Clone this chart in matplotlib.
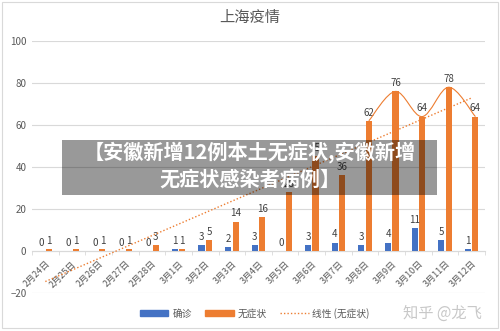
import numpy as np
import matplotlib
matplotlib.use("Agg")
import matplotlib.pyplot as plt
from matplotlib.path import Path
from matplotlib.patches import PathPatch, Rectangle
from matplotlib.lines import Line2D

plt.rcParams['font.family'] = ['Noto Sans CJK SC', 'DejaVu Sans']

dates = ['2月24日', '2月25日', '2月26日', '2月27日', '2月28日', '3月1日', '3月2日',
         '3月3日', '3月4日', '3月5日', '3月6日', '3月7日', '3月8日', '3月9日',
         '3月10日', '3月11日', '3月12日']
confirmed = [0, 0, 0, 0, 0, 1, 3, 2, 3, 0, 3, 4, 3, 4, 11, 5, 1]
asymptomatic = [1, 1, 1, 1, 3, 1, 5, 14, 16, 28, 45, 36, 62, 76, 64, 78, 64]

BLUE = '#4472C4'
ORANGE = '#ED7D31'
GRAY = '#595959'

fig = plt.figure(figsize=(5, 3.31), dpi=100)
ax = fig.add_axes([0.064, 0.115, 0.906, 0.761])

x = np.arange(len(dates))
w = 0.23
off = 0.14
b1 = ax.bar(x - off, confirmed, w, color=BLUE, zorder=3)
b2 = ax.bar(x + off, asymptomatic, w, color=ORANGE, zorder=3)

for rect, v in zip(b1, confirmed):
    ax.text(rect.get_x() + rect.get_width() / 2, v + 1.5, str(v), ha='center', va='bottom',
            fontsize=7, color='#404040', zorder=4)
for rect, v in zip(b2, asymptomatic):
    ax.text(rect.get_x() + rect.get_width() / 2, v + 1.5, str(v), ha='center', va='bottom',
            fontsize=7, color='#404040', zorder=4)

# linear trend of asymptomatic
k, c = np.polyfit(x + 1, asymptomatic, 1)
ax.plot(x, k * (x + 1) + c, ls=(0, (1, 1.5)), color=ORANGE, lw=1, zorder=4)

# smooth curve over the last bar tops (hand drawn in original)
pts = np.array([[xi + off, asymptomatic[xi]] for xi in range(12, 17)], dtype=float)
ext = np.vstack([pts[0], pts, pts[-1]])
verts = [tuple(pts[0])]
codes = [Path.MOVETO]
for i in range(1, len(ext) - 2):
    p0, p1, p2, p3 = ext[i - 1], ext[i], ext[i + 1], ext[i + 2]
    verts += [tuple(p1 + (p2 - p0) / 6), tuple(p2 - (p3 - p1) / 6), tuple(p2)]
    codes += [Path.CURVE4] * 3
ax.add_patch(PathPatch(Path(verts, codes), fill=False, ec=ORANGE, lw=0.8, zorder=4))

ax.set_ylim(-20, 100)
ax.set_xlim(-0.5, len(dates) - 0.5)
ax.set_yticks(range(-20, 101, 20))
ax.yaxis.grid(True, color='#D9D9D9', lw=0.8, zorder=0)
ax.set_axisbelow(True)
for s in ['top', 'right', 'left']:
    ax.spines[s].set_visible(False)
ax.spines['bottom'].set_position(('data', 0))
ax.spines['bottom'].set_color('#D9D9D9')
ax.spines['bottom'].set_zorder(2)
ax.tick_params(axis='y', length=0, labelsize=7, labelcolor=GRAY, pad=4)
ax.set_xticks(x)
ax.set_xticklabels(dates, rotation=45, ha='right', rotation_mode='anchor',
                   fontsize=6.5, color=GRAY)
ax.set_xticks(np.arange(-0.5, len(dates), 1), minor=True)
ax.tick_params(axis='x', which='major', length=0, pad=6)
ax.tick_params(axis='x', which='minor', length=3, color='#D9D9D9')

fig.text(0.5, 0.948, '上海疫情', ha='center', va='center', fontsize=11, color=GRAY)

handles = [Rectangle((0, 0), 1, 1, color=BLUE), Rectangle((0, 0), 1, 1, color=ORANGE),
           Line2D([], [], ls=(0, (1, 1.5)), color=ORANGE, lw=1)]
fig.legend(handles, ['确诊', '无症状', '线性 (无症状)'], loc='center', bbox_to_anchor=(0.51, 0.054),
           ncol=3, frameon=False, fontsize=7, labelcolor=GRAY, handlelength=2.9,
           handleheight=0.5, columnspacing=1.4, handletextpad=0.4)

fig.text(0.885, 0.054, '知乎 @龙飞', ha='center', va='center', fontsize=11, color='#C8C8C8')

# overlay banner
fig.patches.append(Rectangle((0.124, 0.41), 0.75, 0.168, transform=fig.transFigure,
                             facecolor='black', alpha=0.4, zorder=10))
fig.text(0.5, 0.54, '【安徽新增12例本土无症状,安徽新增', ha='center', va='center',
         fontsize=14.5, fontweight='bold', color='white', zorder=11)
fig.text(0.5, 0.455, '无症状感染者病例】', ha='center', va='center',
         fontsize=14.5, fontweight='bold', color='white', zorder=11)

fig.patches.append(Rectangle((0.004, 0.01), 0.992, 0.985, transform=fig.transFigure,
                             fill=False, ec='#D9D9D9', lw=0.8, zorder=12))

fig.savefig('out.png', dpi=100)
